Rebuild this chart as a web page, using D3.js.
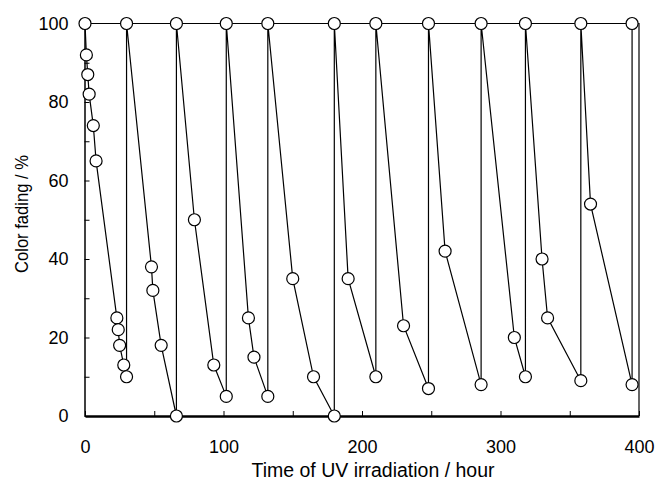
<!DOCTYPE html>
<meta charset="utf-8">
<head>
<script src="https://d3js.org/d3.v7.min.js"></script>
<style>
  body { margin: 0; background: #fff; }
  text { font-family: "Liberation Sans", Arial, sans-serif; fill: #000; }
</style>
</head>
<body>
<div id="fade_graph"></div>

<script>
// data: each run fades, then jumps back to 100 %
var hours  = [0, 1, 2, 3, 6, 8, 23, 24, 25, 28, 30,
              30, 48, 49, 55, 66,
              66, 79, 93, 102,
              102, 118, 122, 132,
              132, 150, 165, 180,
              180, 190, 210,
              210, 230, 248,
              248, 260, 286,
              286, 310, 318,
              318, 330, 334, 358,
              358, 365, 395,
              395];
var fading = [100, 92, 87, 82, 74, 65, 25, 22, 18, 13, 10,
              100, 38, 32, 18, 0,
              100, 50, 13, 5,
              100, 25, 15, 5,
              100, 35, 10, 0,
              100, 35, 10,
              100, 23, 7,
              100, 42, 8,
              100, 20, 10,
              100, 40, 25, 9,
              100, 54, 8,
              100];

var xTicks = d3.range(0, 401, 50);
var yTicks = d3.range(0, 101, 10);
var xLabel = "Time of UV irradiation / hour";
var yLabel = "Color fading / %";

// set the dimensions and margins of the graph
var margin = {top: 23.5, left: 85},
    width = 554,
    height = 392.5;

var svg = d3.select("#fade_graph")
  .append("svg")
    .attr("width", 655)
    .attr("height", 484)
  .append("g")
    .attr("transform", "translate(" + margin.left + "," + margin.top + ")");

var x = d3.scaleLinear().domain([0, 400]).range([0, width]);
var y = d3.scaleLinear().domain([0, 100]).range([height, 0]);

// frame on top and right
svg.append("path")
  .attr("d", "M" + x(0) + "," + y(100) + "H" + x(400) + "V" + y(0))
  .attr("fill", "none")
  .attr("stroke", "#000")
  .attr("stroke-width", 1.2);

// X axis, ticks pointing inward
var xAxis = svg.append("g")
  .attr("transform", "translate(0," + height + ")")
  .call(d3.axisBottom(x)
    .tickValues(xTicks)
    .tickFormat(function(d) { return d % 100 === 0 ? d : ""; })
    .tickSizeInner(-5)
    .tickSizeOuter(0)
    .tickPadding(24));
xAxis.select(".domain").attr("stroke-width", 2.5);
xAxis.selectAll("text").style("font-size", "18px");

// Y axis
var yAxis = svg.append("g")
  .attr("transform", "translate(-0.5,0)")
  .call(d3.axisLeft(y)
    .tickValues(yTicks)
    .tickFormat(function(d) { return d % 20 === 0 ? d : ""; })
    .tickSizeInner(-5)
    .tickSizeOuter(0)
    .tickPadding(16));
yAxis.select(".domain").attr("stroke-width", 1.5);
yAxis.selectAll("text").style("font-size", "18px");

// connecting line
var pts = hours.map(function(h, i) { return [h, fading[i]]; });
svg.append("path")
  .datum(pts)
  .attr("fill", "none")
  .attr("stroke", "#000")
  .attr("stroke-width", 1.2)
  .attr("d", d3.line()
    .x(function(d) { return x(d[0]); })
    .y(function(d) { return y(d[1]); }));

// open circles
svg.selectAll("circle.pt")
  .data(pts)
  .enter()
  .append("circle")
    .attr("class", "pt")
    .attr("cx", function(d) { return x(d[0]); })
    .attr("cy", function(d) { return y(d[1]); })
    .attr("r", 6)
    .attr("fill", "#fff")
    .attr("stroke", "#000")
    .attr("stroke-width", 1.2);

// axis titles
svg.append("text")
  .attr("x", 373 - margin.left)
  .attr("y", 477 - margin.top)
  .attr("text-anchor", "middle")
  .attr("textLength", 243)
  .attr("lengthAdjust", "spacingAndGlyphs")
  .style("font-size", "20px")
  .text(xLabel);

svg.append("text")
  .attr("transform", "translate(" + (28 - margin.left) + "," + (214 - margin.top) + ")rotate(-90)")
  .attr("text-anchor", "middle")
  .attr("textLength", 118)
  .attr("lengthAdjust", "spacingAndGlyphs")
  .style("font-size", "18px")
  .text(yLabel);
</script>
</body>
